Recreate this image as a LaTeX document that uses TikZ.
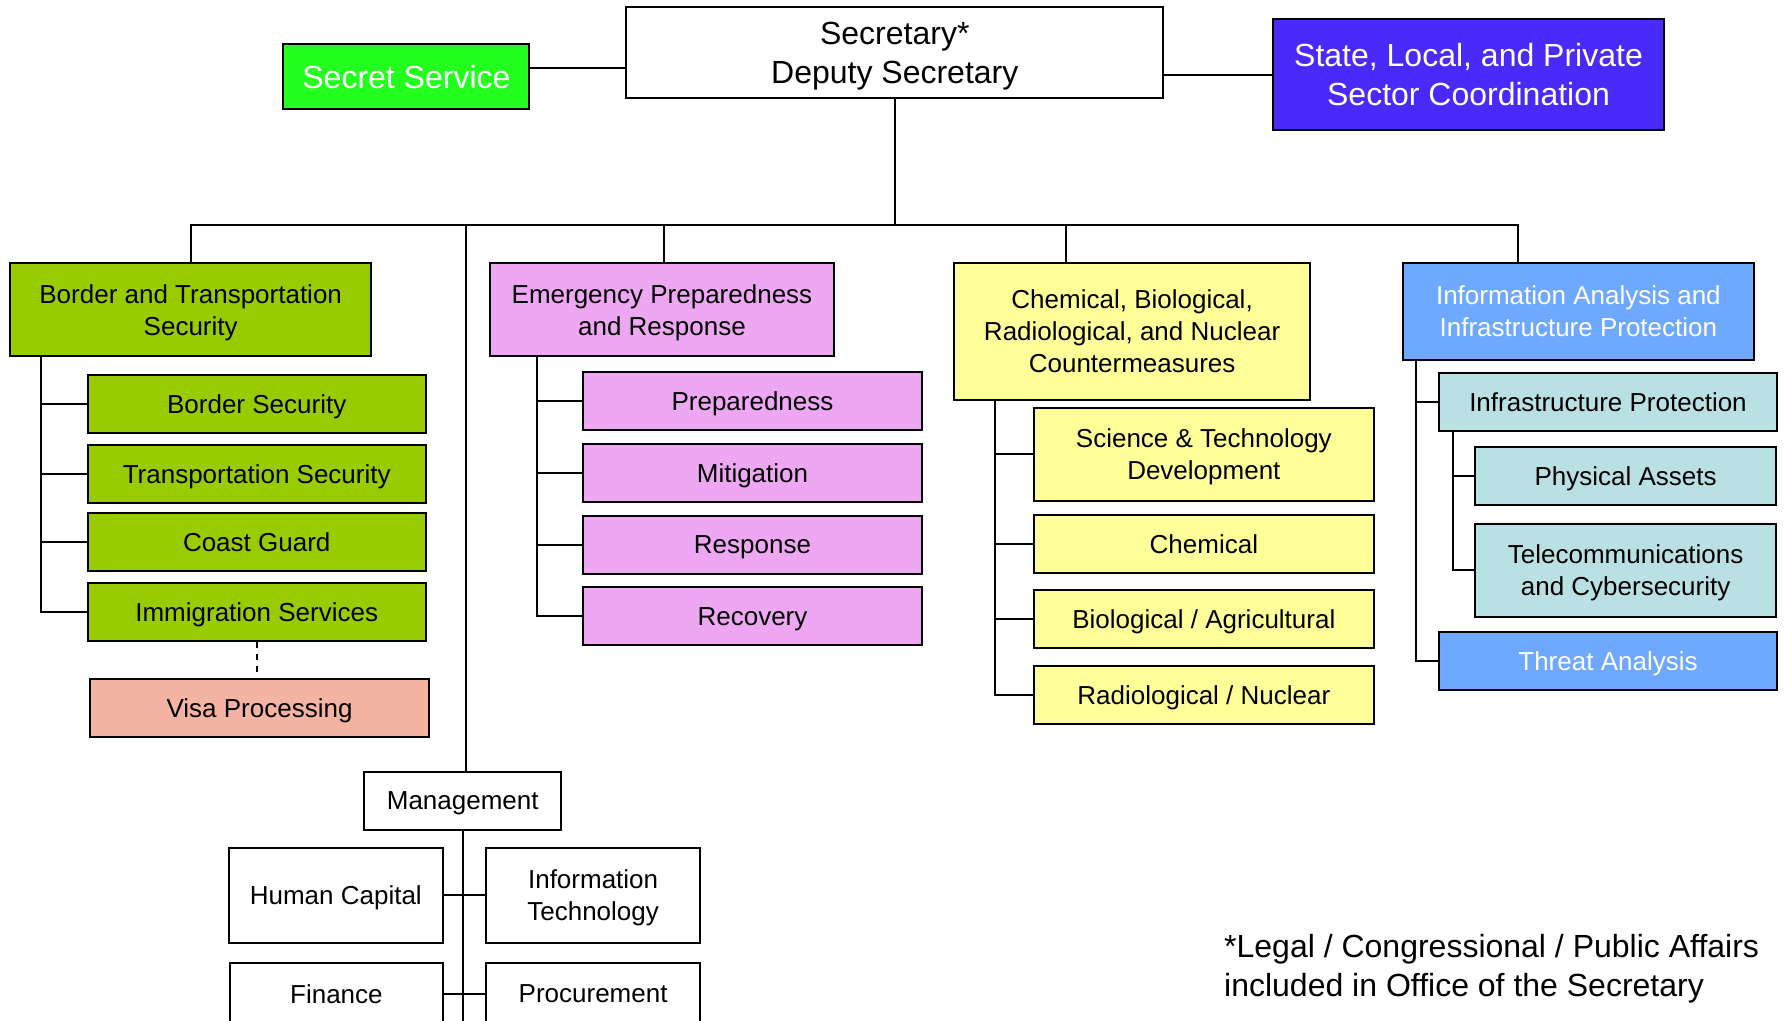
\documentclass[tikz,border=0pt]{standalone}
\usepackage{fontspec}
\setmainfont{Liberation Sans}
\usepackage{xcolor}
\usepackage{tikz}

\definecolor{secretgreen}{RGB}{34,255,30}
\definecolor{stateblue}{RGB}{74,42,250}
\definecolor{btsgreen}{RGB}{153,204,0}
\definecolor{visasalmon}{RGB}{245,180,162}
\definecolor{eprpink}{RGB}{238,168,243}
\definecolor{cbrnyellow}{RGB}{255,255,153}
\definecolor{iaipblue}{RGB}{111,168,255}
\definecolor{infrateal}{RGB}{185,224,226}

\begin{document}
\begin{tikzpicture}[x=0.02cm, y=-0.02cm,
  head/.style={rectangle, draw, line width=1pt, align=center, inner sep=0pt, text depth=-1.5pt, font=\fontsize{16}{19.5}\selectfont},
  dept/.style={rectangle, draw, line width=1pt, align=center, inner sep=0pt, text depth=-1.5pt, font=\fontsize{13}{16}\selectfont},
  office/.style={dept, minimum height=1.02cm},
  link/.style={line width=1pt},
  note/.style={align=left, inner sep=0pt, font=\fontsize{16}{19.4}\selectfont}
]

\useasboundingbox (0,0) rectangle (1568,896);
\clip (0,0) rectangle (1568,896);

% Top level
\node[head, fill=white, minimum width=9.44cm, minimum height=1.6cm] (sec) at (786,46) {Secretary*\\Deputy Secretary};
\node[head, fill=secretgreen, text=white, minimum width=4.32cm, minimum height=1.14cm] (ss) at (357,67.5) {Secret Service};
\node[head, fill=stateblue, text=white, minimum width=6.88cm, minimum height=1.94cm] (sl) at (1290,65.5) {State, Local, and Private\\Sector Coordination};

% Directorates
\node[dept, fill=btsgreen, minimum width=6.34cm, minimum height=1.64cm] (bts) at (167.5,272) {Border and Transportation\\Security};
\node[dept, fill=eprpink, minimum width=6.06cm, minimum height=1.64cm] (epr) at (581.5,272) {Emergency Preparedness\\and Response};
\node[dept, fill=cbrnyellow, minimum width=6.26cm, minimum height=2.4cm] (cbrn) at (994.5,291) {Chemical, Biological,\\Radiological, and Nuclear\\Countermeasures};
\node[dept, fill=iaipblue, text=white, minimum width=6.18cm, minimum height=1.7cm] (iaip) at (1386.5,273.5) {Information Analysis and\\Infrastructure Protection};

% Border and Transportation Security units
\node[office, fill=btsgreen, minimum width=5.94cm] (bs) at (225.5,355) {Border Security};
\node[office, fill=btsgreen, minimum width=5.94cm] (ts) at (225.5,416) {Transportation Security};
\node[office, fill=btsgreen, minimum width=5.94cm] (cg) at (225.5,476.5) {Coast Guard};
\node[office, fill=btsgreen, minimum width=5.94cm] (is) at (225.5,537.5) {Immigration Services};
\node[office, fill=visasalmon, minimum width=5.96cm] (visa) at (228,622) {Visa Processing};

% Emergency Preparedness and Response units
\node[office, fill=eprpink, minimum width=5.96cm] (prep) at (661,352.5) {Preparedness};
\node[office, fill=eprpink, minimum width=5.96cm] (mit) at (661,415.5) {Mitigation};
\node[office, fill=eprpink, minimum width=5.96cm] (resp) at (661,478.5) {Response};
\node[office, fill=eprpink, minimum width=5.96cm] (rec) at (661,541.5) {Recovery};

% CBRN units
\node[dept, fill=cbrnyellow, minimum width=5.98cm, minimum height=1.64cm] (std) at (1057.5,399) {Science \& Technology\\Development};
\node[office, fill=cbrnyellow, minimum width=5.98cm] (chem) at (1057.5,477.5) {Chemical};
\node[office, fill=cbrnyellow, minimum width=5.98cm] (bio) at (1057.5,543.5) {Biological / Agricultural};
\node[office, fill=cbrnyellow, minimum width=5.98cm] (rad) at (1057.5,610.5) {Radiological / Nuclear};

% Information Analysis and Infrastructure Protection units
\node[office, fill=infrateal, minimum width=5.94cm] (ip) at (1412.5,353.5) {Infrastructure Protection};
\node[office, fill=infrateal, minimum width=5.28cm] (pa) at (1428,418.5) {Physical Assets};
\node[dept, fill=infrateal, minimum width=5.28cm, minimum height=1.64cm] (tc) at (1428,501) {Telecommunications\\and Cybersecurity};
\node[office, fill=iaipblue, text=white, minimum width=5.94cm] (ta) at (1412.5,580.5) {Threat Analysis};

% Management
\node[office, fill=white, minimum width=3.46cm] (mgmt) at (406.5,703.5) {Management};
\node[dept, fill=white, minimum width=3.76cm, minimum height=1.66cm] (hc) at (295,786.5) {Human Capital};
\node[dept, fill=white, minimum width=3.76cm, minimum height=1.66cm] (it) at (521,786.5) {Information\\Technology};
\node[dept, fill=white, minimum width=3.74cm, minimum height=1.08cm] (fin) at (295.5,873) {Finance};
\node[dept, fill=white, minimum width=3.76cm, minimum height=1.08cm] (proc) at (521,873) {Procurement};

% Footnote
\node[note, anchor=west] (fn) at (1075,851) {*Legal / Congressional / Public Affairs\\included in Office of the Secretary};

% Top connectors
\draw[link] ([yshift=0.15cm]ss.east) coordinate (ssend) -- (ssend -| sec.west);
\draw[link] (sl.west) -- (sl.west -| sec.east);

% Bus to directorates
\coordinate (bus) at (786,198);
\coordinate (eprtop) at ([xshift=0.03cm]epr.north);
\coordinate (cbrntop) at ([xshift=1.98cm]cbrn.north west);
\coordinate (iaiptop) at ([xshift=2.04cm]iaip.north west);
\coordinate (mgmttop) at ([xshift=0.05cm]mgmt.north);
\draw[link] (sec.south) -- (bus);
\draw[link] (bts.north) -- (bts.north |- bus) -- (iaiptop |- bus) -- (iaiptop);
\draw[link] (eprtop) -- (eprtop |- bus);
\draw[link] (cbrntop) -- (cbrntop |- bus);
\draw[link] (mgmttop) -- (mgmttop |- bus);

% Tree lines
\coordinate (btsroot) at ([xshift=0.56cm]bts.south west);
\draw[link] (btsroot) |- (bs.west);
\draw[link] (btsroot) |- (ts.west);
\draw[link] (btsroot) |- (cg.west);
\draw[link] (btsroot) |- (is.west);
\draw[link, dashed] (is.south) -- (is.south |- visa.north);

\coordinate (eprroot) at ([xshift=0.86cm]epr.south west);
\draw[link] (eprroot) |- (prep.west);
\draw[link] (eprroot) |- (mit.west);
\draw[link] (eprroot) |- (resp.west);
\draw[link] (eprroot) |- (rec.west);

\coordinate (cbrnroot) at ([xshift=0.74cm]cbrn.south west);
\draw[link] (cbrnroot) |- (std.west);
\draw[link] (cbrnroot) |- (chem.west);
\draw[link] (cbrnroot) |- (bio.west);
\draw[link] (cbrnroot) |- (rad.west);

\coordinate (iaiproot) at ([xshift=0.26cm]iaip.south west);
\draw[link] (iaiproot) |- (ip.west);
\draw[link] (iaiproot) |- (ta.west);
\coordinate (iproot) at ([xshift=0.26cm]ip.south west);
\draw[link] (iproot) |- (pa.west);
\draw[link] (iproot) |- (tc.west);

\draw[link] (mgmt.south) -- (mgmt.south |- fin.south);
\draw[link] (hc.east) -- (it.west);
\draw[link] (fin.east) -- (proc.west);

\end{tikzpicture}
\end{document}
